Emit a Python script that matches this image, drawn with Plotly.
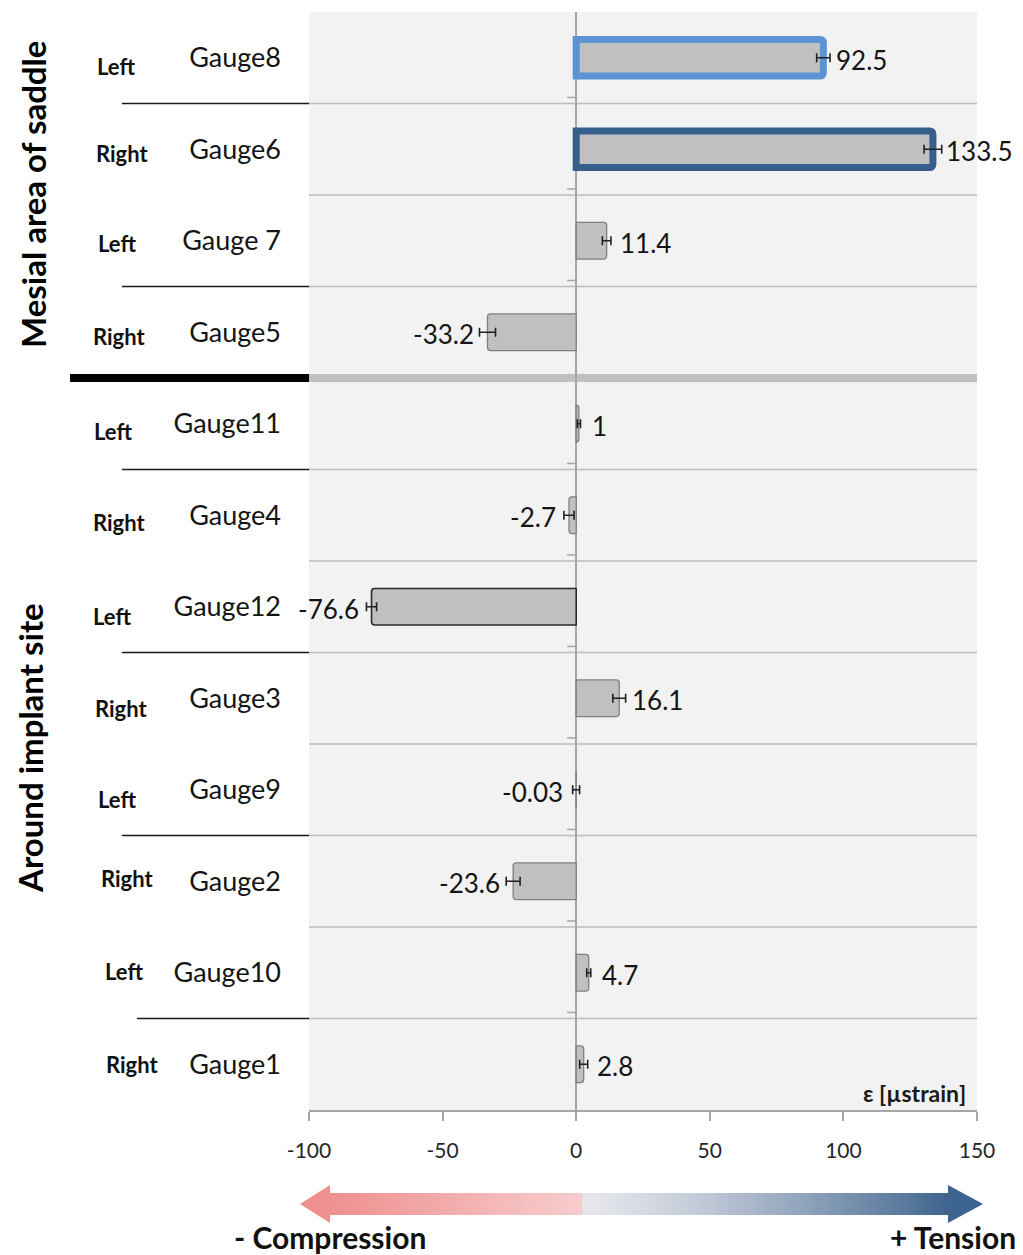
import plotly.graph_objects as go

# ---------------- data ----------------
gauges = ["Gauge8", "Gauge6", "Gauge 7", "Gauge5", "Gauge11", "Gauge4",
          "Gauge12", "Gauge3", "Gauge9", "Gauge2", "Gauge10", "Gauge1"]
sides = ["Left", "Right", "Left", "Right", "Left", "Right",
         "Left", "Right", "Left", "Right", "Left", "Right"]
strain = [92.5, 133.5, 11.4, -33.2, 1, -2.7, -76.6, 16.1, -0.03, -23.6, 4.7, 2.8]
strain_labels = ["92.5", "133.5", "11.4", "-33.2", "1", "-2.7", "-76.6", "16.1",
                 "-0.03", "-23.6", "4.7", "2.8"]
strain_err = [2.5, 3.3, 1.6, 3.0, 0.6, 1.9, 1.9, 2.4, 1.3, 2.6, 0.75, 1.5]
groups = ["Mesial area of saddle", "Around implant site"]
x_ticks = [-100, -50, 0, 50, 100, 150]
x_title = "ε [µstrain]"
arrow_left_text = "- Compression"
arrow_right_text = "+ Tension"

# ---------------- styles / layout helpers ----------------
OFF = 8                      # page body margin of the browser
W, H = 1023 - OFF, 1255 - OFF
L, R, T, B = 309, 977, 12, 1110   # plot area in screen pixels
FONT = "Lato"


def px(x):
    return (x - L) / (R - L)


def py(y):
    return (B - y) / (B - T)


line_colors = ["#5b93d3", "#365f8c"] + ["#7f7f7f"] * 4 + ["#2b2b2b"] + ["#7f7f7f"] * 5
line_widths = [7, 7] + [1.3] * 4 + [1.6] + [1.3] * 5

fig = go.Figure()
fig.add_trace(go.Bar(
    x=strain, y=gauges, orientation="h", width=0.4,
    marker=dict(color="#c0c0c0", cornerradius=3,
                line=dict(color=line_colors, width=line_widths)),
    error_x=dict(type="data", array=strain_err, color="#1f1f1f", thickness=1.6, width=4.5),
    hoverinfo="x+y", showlegend=False,
))

shapes = []
for i in range(11):
    yb = i + 0.5
    if i == 3:
        continue
    shapes.append(dict(type="line", xref="paper", yref="y", x0=0, x1=1, y0=yb, y1=yb,
                       line=dict(color="#bdbdbd", width=1.5), layer="below"))
    shapes.append(dict(type="line", xref="x", yref="y", x0=-3.4, x1=0,
                       y0=yb - 0.066, y1=yb - 0.066,
                       line=dict(color="#a6a6a6", width=1.5), layer="below"))
shapes.append(dict(type="line", xref="paper", yref="y", x0=0, x1=1, y0=3.5, y1=3.5,
                   line=dict(color="#c0c0c0", width=8), layer="below"))
shapes.append(dict(type="line", xref="paper", yref="y", x0=px(70), x1=0, y0=3.5, y1=3.5,
                   line=dict(color="#000000", width=8)))
for i, xs in zip([0, 2, 4, 6, 8, 10], [122, 122, 122, 122, 122, 137]):
    yb = i + 0.5
    shapes.append(dict(type="line", xref="paper", yref="y", x0=px(xs), x1=0, y0=yb, y1=yb,
                       line=dict(color="#1a1a1a", width=1.5)))


def lerp(c1, c2, t):
    a = [int(c1[k:k + 2], 16) for k in (1, 3, 5)]
    b = [int(c2[k:k + 2], 16) for k in (1, 3, 5)]
    return "rgb(%d,%d,%d)" % tuple(round(a[j] + (b[j] - a[j]) * t) for j in range(3))


shaft_top, shaft_bot = 1193, 1215
mid_x = 582
segs = 60
left_x0, right_x1 = 329, 949
for k in range(segs):
    x0 = left_x0 + (mid_x - left_x0) * k / segs
    x1 = left_x0 + (mid_x - left_x0) * (k + 1) / segs + 0.6
    shapes.append(dict(type="rect", xref="paper", yref="paper",
                       x0=px(x0), x1=px(x1), y0=py(shaft_bot), y1=py(shaft_top),
                       fillcolor=lerp("#ef9090", "#f6cccc", k / (segs - 1)),
                       line=dict(width=0)))
for k in range(segs):
    x0 = mid_x + (right_x1 - mid_x) * k / segs
    x1 = mid_x + (right_x1 - mid_x) * (k + 1) / segs + 0.6
    t = (k / (segs - 1)) ** 1.3
    shapes.append(dict(type="rect", xref="paper", yref="paper",
                       x0=px(x0), x1=px(x1), y0=py(shaft_bot), y1=py(shaft_top),
                       fillcolor=lerp("#e6e6ec", "#40668f", t),
                       line=dict(width=0)))
shapes.append(dict(type="path", xref="paper", yref="paper",
                   path="M %f %f L %f %f L %f %f Z" % (px(300), py(1204), px(330), py(1185),
                                                       px(330), py(1223)),
                   fillcolor="#ef8f8f", line=dict(width=0)))
shapes.append(dict(type="path", xref="paper", yref="paper",
                   path="M %f %f L %f %f L %f %f Z" % (px(983), py(1204), px(948), py(1185),
                                                       px(948), py(1223)),
                   fillcolor="#3e6590", line=dict(width=0)))

annotations = []
for g, v, lab in zip(gauges, strain, strain_labels):
    pos = v > 0
    annotations.append(dict(x=v, y=g, xref="x", yref="y", text=lab, showarrow=False,
                            xanchor="left" if pos else "right",
                            xshift=11 if pos else -11, yshift=-2,
                            font=dict(family=FONT, size=26, color="#141414")))
side_pos = [(95, 66), (94, 153), (96, 243), (91, 337), (92, 431), (91, 522),
            (91, 616), (93, 708), (96, 799), (99, 878), (103, 971), (104, 1064)]
for s, (sx, sy) in zip(sides, side_pos):
    annotations.append(dict(x=px(sx), y=py(sy), xref="paper", yref="paper", text="<b>%s</b>" % s,
                            showarrow=False, xanchor="left", yanchor="middle",
                            font=dict(family=FONT, size=22, color="#111111")))
for gtxt, (gx, gy) in zip(groups, [(33, 195), (30, 748)]):
    annotations.append(dict(x=px(gx), y=py(gy), xref="paper", yref="paper", text="<b>%s</b>" % gtxt,
                            showarrow=False, textangle=-90, xanchor="center", yanchor="middle",
                            borderpad=0,
                            font=dict(family=FONT, size=33, color="#000000")))
annotations.append(dict(x=px(968), y=py(1093), xref="paper", yref="paper", text="<b>%s</b>" % x_title,
                        showarrow=False, xanchor="right", yanchor="middle",
                        font=dict(family=FONT, size=23, color="#1a1a1a")))
annotations.append(dict(x=px(232), y=py(1237), xref="paper", yref="paper",
                        text="<b>%s</b>" % arrow_left_text, showarrow=False,
                        xanchor="left", yanchor="middle",
                        font=dict(family=FONT, size=30, color="#111111")))
annotations.append(dict(x=px(1018), y=py(1237), xref="paper", yref="paper",
                        text="<b>%s</b>" % arrow_right_text, showarrow=False,
                        xanchor="right", yanchor="middle",
                        font=dict(family=FONT, size=30, color="#111111")))

fig.update_layout(
    width=W, height=H,
    margin=dict(l=L - OFF, r=1023 - R, t=T - OFF, b=1255 - B, pad=0),
    paper_bgcolor="#ffffff", plot_bgcolor="#f2f2f2",
    barmode="overlay",
    shapes=shapes, annotations=annotations,
    xaxis=dict(range=[-100, 150], tickvals=x_ticks, ticktext=[str(t) for t in x_ticks],
               showgrid=False, zeroline=True, zerolinecolor="#a6a6a6", zerolinewidth=2,
               showline=True, linecolor="#a6a6a6", linewidth=1.5,
               ticks="outside", ticklen=9, tickcolor="#a6a6a6", tickwidth=1.5,
               ticklabelstandoff=12,
               tickfont=dict(family=FONT, size=21, color="#262626")),
    yaxis=dict(categoryorder="array", categoryarray=gauges, range=[11.5, -0.5],
               showgrid=False, zeroline=False, showline=False,
               ticks="", ticklabelstandoff=27,
               tickfont=dict(family=FONT, size=27, color="#141414")),
    font=dict(family=FONT),
)

fig.write_html("out.html")
